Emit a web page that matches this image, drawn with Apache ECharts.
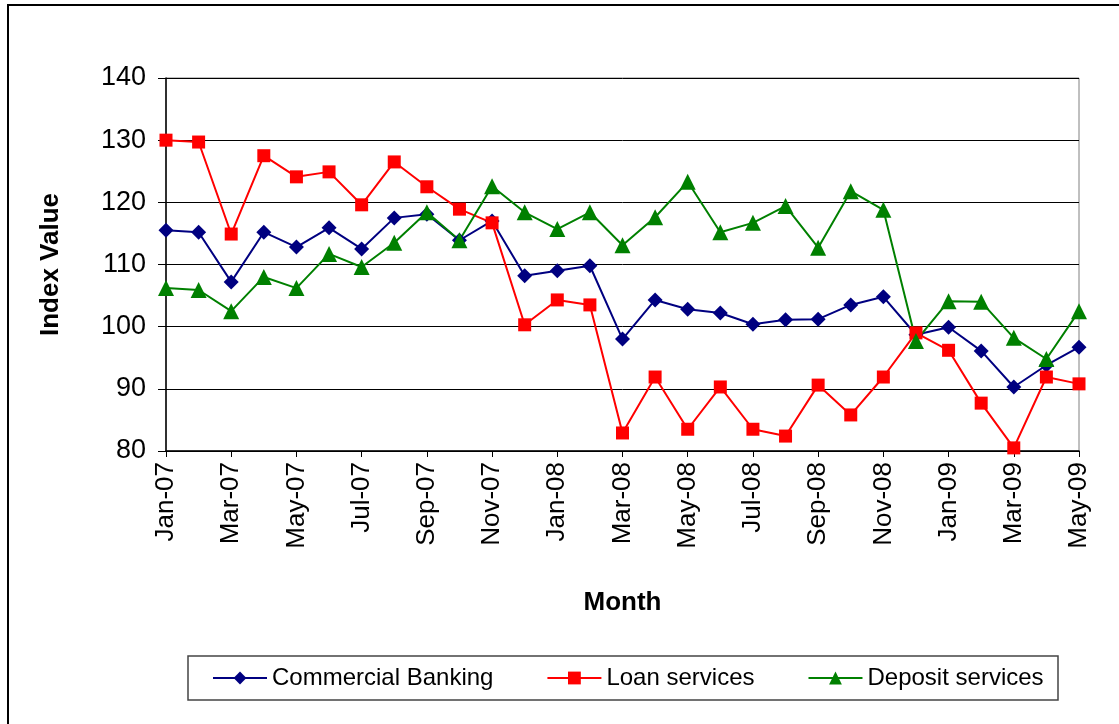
<!DOCTYPE html>
<html><head><meta charset="utf-8">
<script src="https://cdn.jsdelivr.net/npm/echarts@6/dist/echarts.min.js"></script>
<style>html,body{margin:0;padding:0;background:#fff}#c{width:1119px;height:724px}</style>
</head><body><div id="c"></div>
<script>
const months = ['Jan-07','Feb-07','Mar-07','Apr-07','May-07','Jun-07','Jul-07','Aug-07','Sep-07','Oct-07','Nov-07','Dec-07',
 'Jan-08','Feb-08','Mar-08','Apr-08','May-08','Jun-08','Jul-08','Aug-08','Sep-08','Oct-08','Nov-08','Dec-08',
 'Jan-09','Feb-09','Mar-09','Apr-09','May-09'];
const commercialBanking = [115.5,115.2,107.2,115.2,112.8,115.9,112.5,117.5,118.1,113.9,117.0,108.2,
 109.0,109.8,98.0,104.3,102.8,102.2,100.4,101.1,101.2,103.5,104.8,98.7,99.9,96.1,90.3,93.8,96.7];
const loanServices = [130.0,129.7,114.9,127.5,124.1,124.9,119.6,126.5,122.5,118.9,116.7,100.3,
 104.3,103.5,82.9,91.9,83.5,90.3,83.5,82.4,90.6,85.8,91.9,99.0,96.2,87.7,80.5,91.9,90.8];
const depositServices = [106.2,105.9,102.5,108.0,106.2,111.7,109.6,113.5,118.4,113.9,122.6,118.4,
 115.7,118.4,113.1,117.6,123.3,115.2,116.7,119.4,112.7,121.8,118.8,97.7,104.1,104.0,98.2,94.8,102.5];
const seriesNames = ['Commercial Banking','Loan services','Deposit services'];
const yTicks = {min:80, max:140, step:10};

const FONT = '"Liberation Sans", Arial, sans-serif';
const chart = echarts.init(document.getElementById('c'));
function mk(name, data, color, symbol, size){
  return {name, type:'line', data, symbol, symbolSize:size, showSymbol:true,
    lineStyle:{color, width:2}, itemStyle:{color}, emphasis:{disabled:true}};
}
chart.setOption({
  animation:false,
  backgroundColor:'#fff',
  grid:{left:166, right:40, top:78, bottom:273, show:true, borderColor:'#808080', borderWidth:1},
  xAxis:{type:'category', data:months, boundaryGap:false,
    axisLine:{lineStyle:{color:'#000', width:1.5}},
    axisTick:{show:true, interval:1, length:6, lineStyle:{color:'#000'}},
    axisLabel:{interval:1, rotate:90, fontFamily:FONT, fontSize:26, color:'#000', margin:11},
    name:'Month', nameLocation:'middle', nameGap:139,
    nameTextStyle:{fontFamily:FONT, fontSize:26, fontWeight:'bold', color:'#000'},
    splitLine:{show:false}},
  yAxis:{type:'value', min:yTicks.min, max:yTicks.max, interval:yTicks.step,
    axisLine:{show:true, lineStyle:{color:'#000', width:1.5}},
    axisTick:{show:true, length:8, lineStyle:{color:'#000'}},
    axisLabel:{fontFamily:FONT, fontSize:27, color:'#000', margin:20},
    splitLine:{show:true, lineStyle:{color:'#000', width:1}},
    name:'Index Value', nameLocation:'middle', nameGap:102, nameRotate:90,
    nameTextStyle:{fontFamily:FONT, fontSize:26, fontWeight:'bold', color:'#000'}},
  legend:{left:207, top:661, itemWidth:54, itemHeight:16, itemGap:53,
    textStyle:{fontFamily:FONT, fontSize:24, color:'#000'},
    data:seriesNames},
  graphic:[
    {type:'rect', shape:{x:8, y:5, width:1200, height:800}, style:{fill:'none', stroke:'#000', lineWidth:2}, z:-10},
    {type:'rect', shape:{x:188, y:656, width:870, height:44}, style:{fill:'none', stroke:'#444', lineWidth:1.5}}
  ],
  series:[
    mk(seriesNames[0], commercialBanking, '#000080', 'diamond', 15),
    mk(seriesNames[1], loanServices, '#ff0000', 'rect', 13),
    mk(seriesNames[2], depositServices, '#008000', 'triangle', 16)
  ]
});
</script></body></html>
